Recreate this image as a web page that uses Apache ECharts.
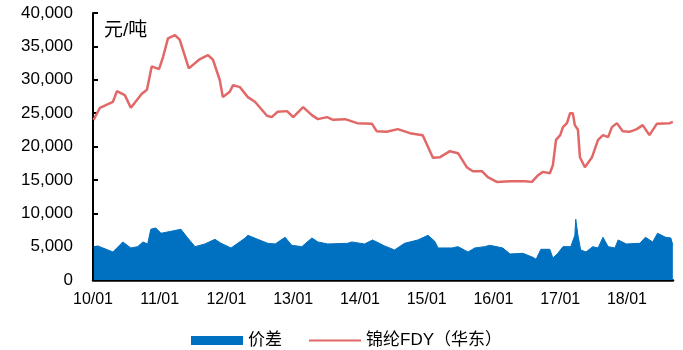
<!DOCTYPE html>
<html>
<head>
<meta charset="utf-8">
<script src="https://cdn.jsdelivr.net/npm/echarts@6/dist/echarts.min.js"></script>
<style>
html,body{margin:0;padding:0;background:#fff;}
#chart{width:683px;height:350px;}
</style>
</head>
<body>
<div id="chart"></div>
<script>
// 锦纶FDY（华东） price, 元/吨
const fdyDates = ['2010-01-04','2010-02-08','2010-04-20','2010-05-12','2010-06-24','2010-07-27','2010-09-25','2010-10-23','2010-11-18','2010-12-28',
  '2011-01-19','2011-02-15','2011-03-25','2011-04-20','2011-06-09','2011-08-09','2011-09-22','2011-10-19','2011-11-25','2011-12-12',
  '2012-01-19','2012-02-06','2012-03-14','2012-04-27','2012-06-05','2012-08-10','2012-09-05','2012-10-08','2012-11-28',
  '2013-01-01','2013-02-24','2013-04-13','2013-05-16','2013-07-05','2013-08-07','2013-10-12','2013-12-17',
  '2014-03-08','2014-04-02','2014-05-27','2014-07-27','2014-10-01','2014-12-10',
  '2015-02-04','2015-03-15','2015-05-08','2015-06-21','2015-08-08','2015-09-10','2015-10-30','2015-12-01',
  '2016-01-19','2016-04-01','2016-06-21','2016-07-30','2016-09-02','2016-09-28','2016-11-05','2016-11-22','2016-12-09',
  '2017-01-01','2017-01-16','2017-02-07','2017-02-24','2017-03-11','2017-03-22','2017-04-08','2017-04-19','2017-05-16','2017-06-24',
  '2017-07-27','2017-08-23','2017-09-20','2017-10-11','2017-11-07','2017-12-09',
  '2018-01-15','2018-02-24','2018-03-28','2018-05-04','2018-06-13','2018-08-23','2018-09-09'];
const fdyValues = [24000,25800,26700,28300,27700,25800,27900,28500,32000,31600,
  33400,36200,36700,36000,31700,33100,33700,33000,30000,27400,
  28200,29200,28900,27400,26700,24600,24400,25200,25300,
  24400,25900,24700,24100,24400,24000,24100,23500,
  23400,22300,22200,22600,22000,21700,
  18300,18400,19300,19000,16900,16300,16300,15400,
  14700,14800,14800,14700,15700,16200,16000,17200,21000,
  21700,22900,23500,25000,25000,23200,22500,18400,16900,18400,
  21000,21700,21400,22900,23500,22300,
  22200,22600,23200,21700,23400,23500,23700];

// 价差 spread, 元/吨
const spreadDates = ['2010-01-06','2010-01-28','2010-02-24','2010-04-20','2010-06-13','2010-07-27','2010-09-02','2010-10-01','2010-10-27','2010-11-13','2010-12-10',
  '2011-01-08','2011-03-04','2011-04-27','2011-06-03','2011-07-13','2011-09-05','2011-10-30','2011-12-02',
  '2012-01-26','2012-04-13','2012-04-27','2012-06-20','2012-08-14','2012-09-24','2012-11-17','2012-12-24',
  '2013-02-17','2013-04-13','2013-05-16','2013-07-09','2013-10-26','2013-11-17',
  '2014-01-26','2014-03-11','2014-05-16','2014-07-09','2014-09-02','2014-11-14',
  '2015-01-08','2015-02-14','2015-03-04','2015-05-19','2015-06-21','2015-08-15','2015-09-21','2015-11-14','2015-12-12',
  '2016-02-21','2016-04-01','2016-06-10','2016-08-04','2016-08-22','2016-09-17','2016-11-05','2016-11-22','2016-12-19',
  '2017-01-16','2017-02-28','2017-03-22','2017-03-27','2017-04-08','2017-04-23','2017-05-22','2017-06-28','2017-07-27','2017-08-23','2017-09-20','2017-10-27','2017-11-14','2017-12-28',
  '2018-03-13','2018-04-12','2018-05-22','2018-06-17','2018-08-01','2018-08-29','2018-09-09'];
const spreadValues = [5000,5100,4800,4200,5700,4800,5000,5700,5400,7600,7800,
  7000,7300,7600,6300,5000,5400,6100,5500,
  4800,6300,6700,6100,5500,5400,6400,5200,
  5000,6300,5700,5400,5500,5700,
  5400,6000,5100,4500,5500,6000,
  6700,5800,4800,4800,5000,4200,4800,5000,5200,
  4800,3900,4000,3400,3100,4600,4600,3300,4000,
  5000,5000,6700,9100,6700,4500,4200,5000,4800,6400,5000,4800,6000,5400,
  5500,6400,5700,7000,6400,6300,5200];

const yTicks = [0,5000,10000,15000,20000,25000,30000,35000,40000];
const xTickLabels = ['10/01','11/01','12/01','13/01','14/01','15/01','16/01','17/01','18/01'];

function toYear(s){
  const p = s.split('-').map(Number);
  const a = Date.UTC(p[0],0,1), b = Date.UTC(p[0]+1,0,1);
  return p[0] + (Date.UTC(p[0],p[1]-1,p[2]) - a) / (b - a);
}
const fdyData = fdyDates.map((d,i)=>[toYear(d), fdyValues[i]]);
const spreadData = spreadDates.map((d,i)=>[toYear(d), spreadValues[i]]);

const font = 'Arial, "Liberation Sans", "Noto Sans CJK SC", sans-serif';
const chart = echarts.init(document.getElementById('chart'));
chart.setOption({
  animation: false,
  grid: {left: 93, right: 10, top: 13, bottom: 70, containLabel: false},
  legend: {
    left: 186, top: 327,
    itemGap: 26, itemWidth: 52, itemHeight: 9,
    textStyle: {fontFamily: font, fontSize: 17, color: '#000'},
    data: [
      {name: '价差', icon: 'rect'},
      {name: '锦纶FDY（华东）', itemStyle: {color: 'rgba(0,0,0,0)', borderWidth: 0, opacity: 0}}
    ]
  },
  graphic: [{
    type: 'text', left: 104, top: 21,
    style: {text: '元/吨', font: '19px ' + font, fill: '#000'}
  }],
  xAxis: {
    type: 'value', min: 2010, max: 2018.69, interval: 1,
    splitLine: {show: false},
    axisLine: {show: true, lineStyle: {color: '#000', width: 2.5}},
    axisTick: {show: true, inside: true, length: 5, lineStyle: {color: '#000', width: 2}},
    axisLabel: {
      showMaxLabel: false, margin: 12, fontSize: 16, color: '#000', fontFamily: font,
      formatter: v => xTickLabels[Math.round(v) - 2010] || ''
    }
  },
  yAxis: {
    type: 'value', min: yTicks[0], max: yTicks[yTicks.length-1], interval: 5000,
    splitLine: {show: false},
    axisLine: {show: true, lineStyle: {color: '#000', width: 2}},
    axisTick: {show: true, inside: true, length: 5, lineStyle: {color: '#000', width: 2}},
    axisLabel: {
      margin: 20, fontSize: 17, color: '#000', fontFamily: font,
      formatter: v => v.toLocaleString('en-US')
    }
  },
  series: [{
    name: '价差', type: 'line', data: spreadData, symbol: 'none',
    itemStyle: {color: '#0070C0'},
    lineStyle: {color: '#0070C0', width: 1},
    areaStyle: {color: '#0070C0', opacity: 1},
    z: 1
  }, {
    name: '锦纶FDY（华东）', type: 'line', data: fdyData, symbol: 'none',
    itemStyle: {color: '#E26868'},
    lineStyle: {color: '#E26868', width: 2.5},
    z: 3
  }]
});
</script>
</body>
</html>
